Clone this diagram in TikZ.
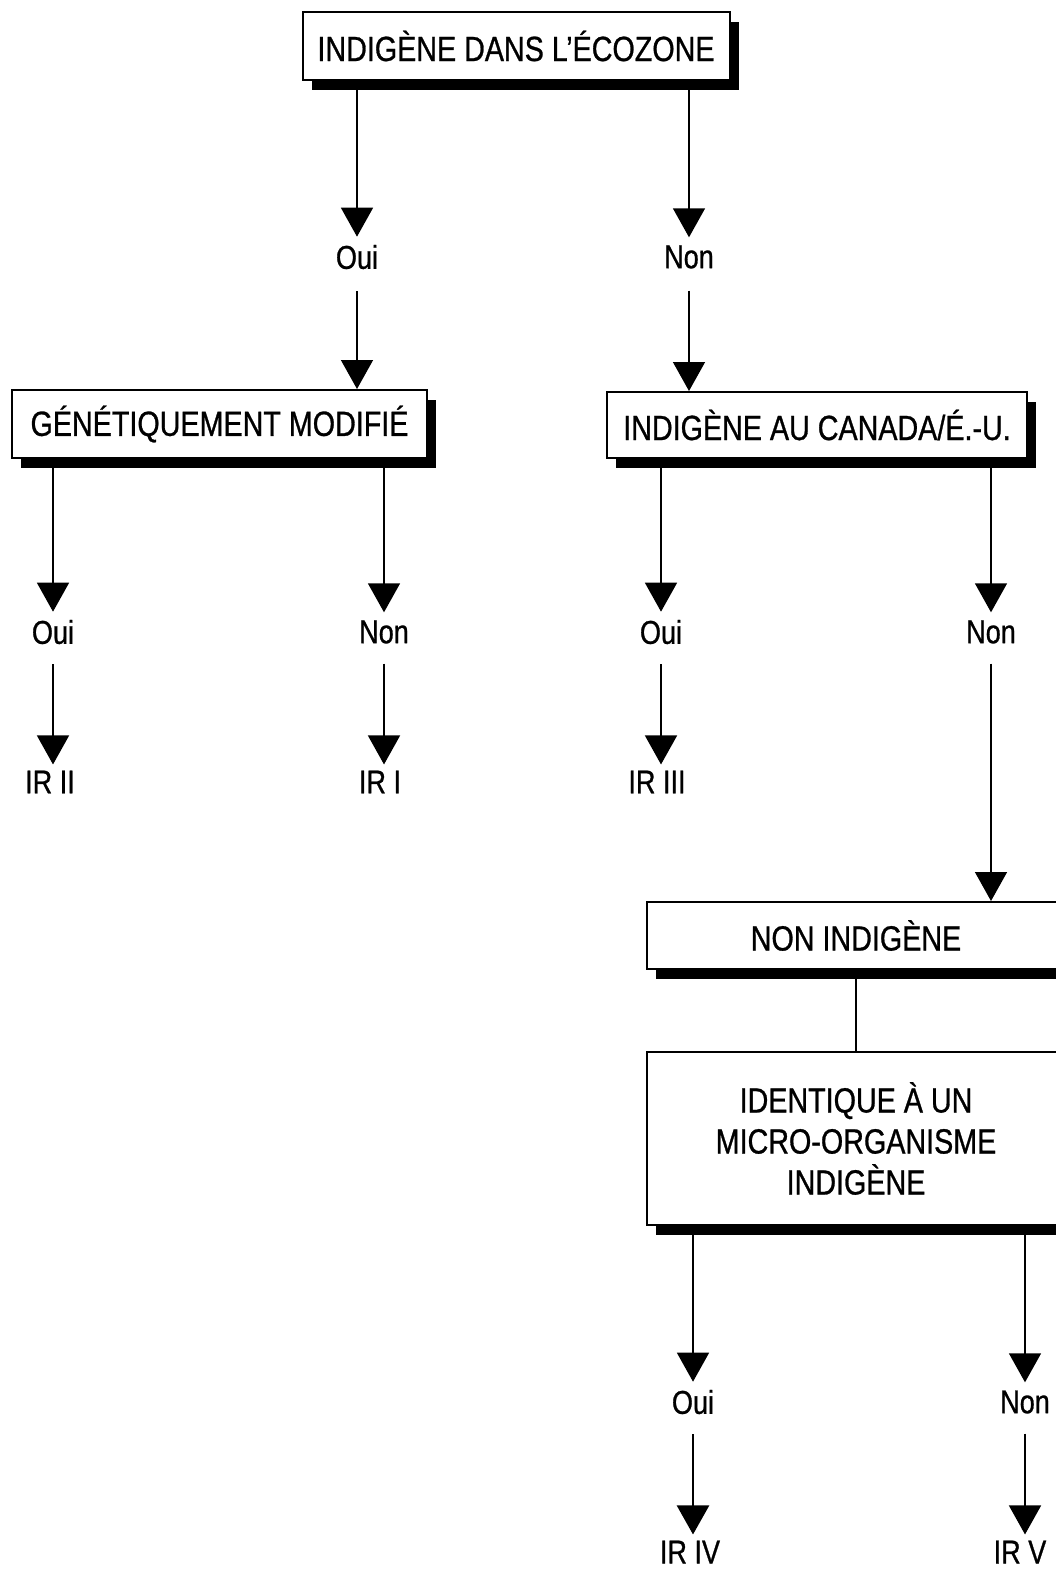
\documentclass[tikz,border=0pt]{standalone}
\usepackage{fontspec}
\setmainfont{Liberation Sans}[FakeStretch=0.82,FakeBold=0.8]
\usetikzlibrary{arrows.meta,shadows}
\begin{document}
\begin{tikzpicture}[x=1pt,y=-1pt,
  box/.style={draw, line width=2pt, fill=white, rectangle, inner sep=0pt, align=center,
    font=\fontsize{35}{41}\selectfont,
    drop shadow={shadow xshift=9pt, shadow yshift=-10pt, fill=black, opacity=1}},
  lab/.style={inner sep=0pt, font=\fontsize{33}{38}\selectfont},
  arr/.style={line width=1.5pt, -{Triangle[width=32pt,length=29pt]}},
  ln/.style={line width=1.5pt}]
\useasboundingbox (0,0) rectangle (1056,1569);
% boxes
\node[box, minimum width=427pt, minimum height=68pt] (b1) at (516,46) {INDIGÈNE DANS L’ÉCOZONE};
\node[box, minimum width=415pt, minimum height=68pt] (b2) at (219.5,424) {GÉNÉTIQUEMENT MODIFIÉ};
\node[box, minimum width=420pt, minimum height=66pt] (b3) at (817,425) {INDIGÈNE AU CANADA/É.-U.};
\node[box, minimum width=418pt, minimum height=67pt] (b4) at (856,935.5) {NON INDIGÈNE};
\node[box, minimum width=418pt, minimum height=173pt] (b5) at (856,1138.5) {IDENTIQUE À UN\\MICRO-ORGANISME\\INDIGÈNE};
% labels
\node[lab] (oui1) at (357,257) {Oui};
\node[lab] (non1) at (689,257) {Non};
\node[lab] (oui2) at (53,632) {Oui};
\node[lab] (non2) at (384,632) {Non};
\node[lab] (ir2) at (50,782) {IR II};
\node[lab] (ir1) at (380,782) {IR I};
\node[lab] (oui3) at (661,632) {Oui};
\node[lab] (non3) at (991,632) {Non};
\node[lab] (ir3) at (657,782) {IR III};
\node[lab] (oui4) at (693,1402) {Oui};
\node[lab] (non4) at (1025,1402) {Non};
\node[lab] (ir4) at (690,1552) {IR IV};
\node[lab] (ir5) at (1020,1552) {IR V};
% connectors
\draw[arr] (b1.south -| oui1) -- ([yshift=8pt]oui1.north);
\draw[arr] (b1.south -| non1) -- ([yshift=8pt]non1.north);
\draw[arr] ([yshift=-22pt]oui1.south) -- (oui1 |- b2.north);
\draw[arr] ([yshift=-22pt]non1.south) -- (non1 |- b3.north);
\draw[arr] (b2.south -| oui2) -- ([yshift=8pt]oui2.north);
\draw[arr] (b2.south -| non2) -- ([yshift=8pt]non2.north);
\draw[arr] ([yshift=-20pt]oui2.south) -- ([yshift=6pt]ir2.north -| oui2);
\draw[arr] ([yshift=-20pt]non2.south) -- ([yshift=6pt]ir1.north -| non2);
\draw[arr] (b3.south -| oui3) -- ([yshift=8pt]oui3.north);
\draw[arr] (b3.south -| non3) -- ([yshift=8pt]non3.north);
\draw[arr] ([yshift=-20pt]oui3.south) -- ([yshift=6pt]ir3.north -| oui3);
\draw[arr] ([yshift=-20pt]non3.south) -- (non3 |- b4.north);
\draw[ln] (b4.south) -- (b5.north);
\draw[arr] (b5.south -| oui4) -- ([yshift=8pt]oui4.north);
\draw[arr] (b5.south -| non4) -- ([yshift=8pt]non4.north);
\draw[arr, line width=2.5pt] ([yshift=-20pt]oui4.south) -- ([yshift=6pt]ir4.north -| oui4);
\draw[arr] ([yshift=-20pt]non4.south) -- ([yshift=6pt]ir5.north -| non4);
\end{tikzpicture}
\end{document}
